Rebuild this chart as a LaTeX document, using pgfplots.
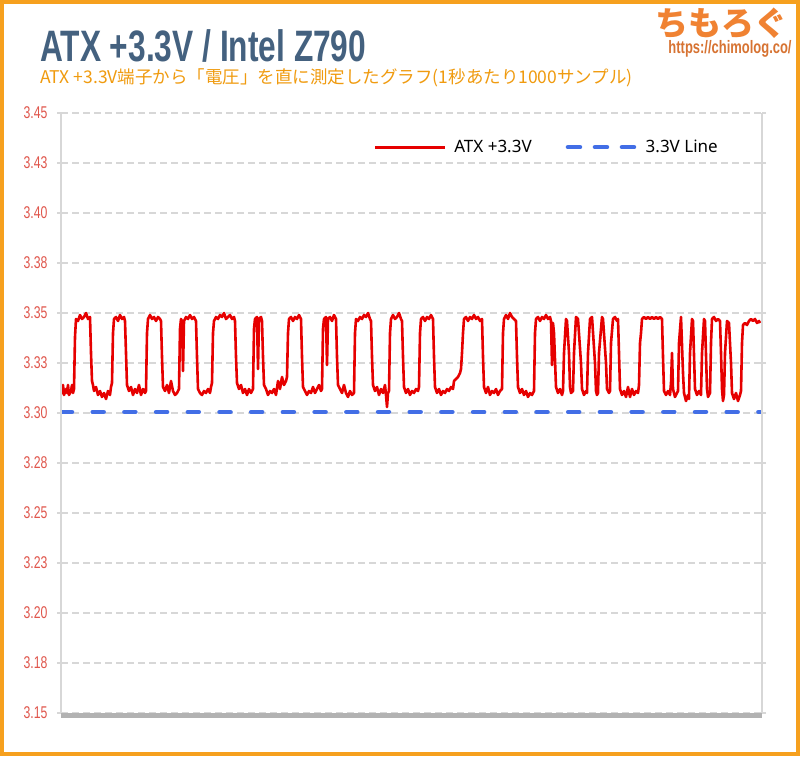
\documentclass[border=0pt]{standalone}
\usepackage{fontspec}
\usepackage{pgfplots}
\pgfplotsset{compat=1.18}
\setmainfont{Noto Sans}
\newfontfamily\cjk{Noto Sans CJK JP}
\newfontfamily\cond[FakeStretch=0.72]{Liberation Sans}

\definecolor{titleblue}{RGB}{68,97,127}
\definecolor{suborange}{RGB}{240,155,15}
\definecolor{frameorange}{RGB}{246,160,30}
\definecolor{tickred}{RGB}{224,86,76}
\definecolor{datared}{RGB}{230,0,0}
\definecolor{lineblue}{RGB}{66,110,230}
\definecolor{gridgray}{RGB}{215,215,215}
\definecolor{basegray}{RGB}{178,178,178}
\definecolor{logoorange}{RGB}{240,130,50}
\definecolor{urlorange}{RGB}{215,115,50}

\pgfplotsset{
  solidlegend/.style={legend image code/.code={\draw[##1] (0pt,0pt) -- (70pt,0pt); \path (76pt,0pt);}},
  dashlegend/.style={legend image code/.code={\draw[##1, dash pattern=on 12pt off 15pt] (2.5pt,0pt) -- (70pt,0pt); \path (76pt,0pt);}},
}

\begin{document}
\begin{tikzpicture}
\path[use as bounding box] (0pt,0pt) rectangle (800pt,756pt);
\fill[white] (0pt,0pt) rectangle (800pt,756pt);
\draw[frameorange, line width=4pt] (2pt,2pt) rectangle (798pt,754pt);

\node[anchor=base west, inner sep=0pt, text=titleblue, font=\cond\bfseries\fontsize{44}{44}\selectfont]
  at (40pt,694pt) {ATX +3.3V / Intel Z790};
\node[anchor=base west, text=suborange, font=\cjk\fontsize{17.5}{17.5}\selectfont, inner sep=0pt]
  at (40pt,672pt) {ATX +3.3V端子から「電圧」を直に測定したグラフ(1秒あたり1000サンプル)};
\node[text=logoorange, font=\cjk\bfseries\fontsize{33}{33}\selectfont] at (721pt,733pt) {ちもろぐ};
\node[text=urlorange, font=\cond\bfseries\fontsize{18}{18}\selectfont] at (730pt,707pt) {https://chimolog.co/};

\begin{axis}[
    name=ax,
    at={(61pt,43pt)}, anchor=south west,
    scale only axis,
    width=701pt, height=600pt,
    xmin=0, xmax=701,
    ymin=3.15, ymax=3.45,
    xtick=\empty,
    ytick={3.15,3.175,3.2,3.225,3.25,3.275,3.3,3.325,3.35,3.375,3.4,3.425,3.45},
    yticklabels={3.15,3.18,3.20,3.23,3.25,3.28,3.30,3.33,3.35,3.38,3.40,3.43,3.45},
    ymajorgrids,
    major grid style={draw=gridgray, line width=1.2pt, dash pattern=on 7pt off 4pt},
    axis line style={draw=none},
    y tick style={draw=gridgray, line width=1.2pt},
    major tick length=4pt,
    tick align=outside,
    yticklabel style={font=\cond\fontsize{17}{17}\selectfont, text=tickred, xshift=-6pt},
    legend style={at={(0.94,0.943)}, anchor=east, draw=none, fill=none, inner sep=0pt,
      font=\fontsize{17}{17}\selectfont,
      /tikz/every even column/.append style={column sep=32pt}},
    legend columns=2,
    legend cell align=left,
  ]
\addplot[datared, line width=2.6pt, line join=round, solidlegend] coordinates {
(0,3.313)(1,3.310)(2,3.314)(3,3.309)(5,3.312)(6,3.310)(7,3.314)(8,3.309)(10,3.311)(11,3.314)(12,3.310)(13,3.312)
(14,3.338)(15,3.347)(17,3.346)(19,3.349)(21,3.347)(23,3.348)(25,3.350)(27,3.347)(29,3.348)
(30,3.330)(31,3.316)
(32,3.314)(33,3.311)(35,3.313)(37,3.309)(39,3.311)(41,3.308)(43,3.310)(45,3.307)(47,3.311)(49,3.309)(50,3.313)(51,3.315)
(52,3.340)(53,3.347)(55,3.348)(57,3.346)(59,3.349)(61,3.347)(63,3.348)(64,3.346)
(65,3.330)(66,3.314)
(68,3.311)(70,3.313)(72,3.309)(74,3.312)(76,3.310)(78,3.314)(80,3.309)(82,3.312)(84,3.310)(85,3.311)
(86,3.340)(87,3.347)(89,3.349)(91,3.347)(93,3.348)(95,3.346)(97,3.348)(99,3.347)(100,3.346)
(101,3.328)(102,3.313)
(104,3.311)(106,3.314)(108,3.310)(110,3.316)(112,3.311)(114,3.309)(116,3.310)(118,3.312)
(119,3.342)(120,3.347)(121,3.346)(122,3.321)(123,3.346)(125,3.348)(127,3.347)(129,3.349)(131,3.347)(133,3.348)(135,3.346)
(136,3.328)(137,3.312)
(139,3.310)(141,3.309)(143,3.311)(145,3.310)(147,3.312)(149,3.310)(150,3.313)(151,3.315)
(152,3.340)(153,3.346)(155,3.348)(157,3.347)(159,3.349)(161,3.348)(163,3.350)(165,3.347)(167,3.348)(169,3.349)(171,3.347)(173,3.348)(174,3.346)
(175,3.328)(176,3.315)
(178,3.312)(180,3.314)(182,3.310)(184,3.312)(186,3.309)(188,3.312)(190,3.310)(192,3.312)
(193,3.342)(194,3.347)(196,3.348)(197,3.322)(198,3.347)(200,3.348)(201,3.346)
(202,3.328)(203,3.314)
(205,3.312)(207,3.309)(209,3.311)(211,3.310)(213,3.312)(215,3.309)(217,3.316)(219,3.312)(221,3.318)(223,3.314)(225,3.316)(226,3.318)
(227,3.340)(228,3.347)(230,3.348)(232,3.346)(234,3.348)(236,3.347)(238,3.349)(240,3.347)
(241,3.328)(242,3.313)
(244,3.311)(246,3.309)(248,3.311)(250,3.310)(252,3.313)(254,3.310)(256,3.312)(258,3.314)(260,3.311)(261,3.312)
(262,3.342)(263,3.347)(265,3.348)(266,3.324)(267,3.347)(269,3.348)(271,3.346)(273,3.349)(275,3.347)
(276,3.328)(277,3.314)
(279,3.312)(281,3.310)(283,3.314)(285,3.310)(287,3.308)(289,3.311)(291,3.309)(293,3.310)
(294,3.340)(295,3.347)(297,3.346)(299,3.348)(301,3.347)(303,3.349)(305,3.348)(307,3.350)(309,3.347)(310,3.346)
(311,3.328)(312,3.314)
(314,3.311)(316,3.313)(318,3.309)(320,3.312)(322,3.310)(324,3.314)(325,3.309)(326,3.303)(327,3.310)(328,3.311)
(329,3.340)(330,3.347)(332,3.349)(334,3.347)(336,3.348)(338,3.350)(340,3.347)(341,3.346)
(342,3.328)(343,3.313)
(345,3.310)(347,3.312)(349,3.309)(351,3.311)(353,3.310)(355,3.312)(357,3.311)(358,3.313)
(359,3.340)(360,3.347)(362,3.348)(364,3.346)(366,3.348)(368,3.347)(370,3.349)(372,3.347)
(373,3.328)(374,3.313)
(376,3.310)(378,3.312)(380,3.309)(382,3.311)(384,3.310)(386,3.312)(388,3.311)(390,3.313)(392,3.312)(393,3.316)(395,3.317)(397,3.318)(399,3.320)(400,3.322)(401,3.330)
(402,3.340)(403,3.347)(405,3.348)(407,3.346)(409,3.348)(411,3.347)(413,3.349)(415,3.347)(417,3.348)(419,3.346)(421,3.347)
(422,3.328)(423,3.313)
(425,3.310)(427,3.313)(429,3.309)(431,3.311)(433,3.310)(435,3.312)(437,3.309)(439,3.311)(441,3.312)
(442,3.340)(443,3.347)(445,3.349)(447,3.347)(449,3.350)(451,3.348)(453,3.347)(455,3.346)
(456,3.328)(457,3.313)
(459,3.310)(461,3.312)(463,3.309)(465,3.311)(467,3.308)(469,3.310)(471,3.309)(473,3.311)
(474,3.340)(475,3.347)(477,3.348)(479,3.346)(481,3.348)(483,3.347)(485,3.349)(487,3.347)(489,3.348)(490,3.346)(491,3.324)(492,3.345)(493,3.340)(495,3.313)
(497,3.310)(499,3.312)(501,3.309)(502,3.311)
(503,3.330)(505,3.347)(506,3.346)(508,3.330)(509,3.313)
(510,3.310)(512,3.311)
(513,3.330)(515,3.348)(517,3.347)(520,3.325)(521,3.312)
(523,3.309)(525,3.311)(526,3.310)
(527,3.330)(529,3.347)(531,3.348)(534,3.325)(535,3.311)
(536,3.309)(537,3.310)
(538,3.330)(541,3.348)(542,3.347)(545,3.325)(546,3.312)
(548,3.310)(549,3.311)
(550,3.335)(552,3.347)(554,3.348)(556,3.346)(557,3.347)(558,3.330)(559,3.312)
(561,3.309)(563,3.311)(565,3.308)(567,3.313)(569,3.308)(571,3.312)(573,3.309)(575,3.311)(577,3.310)(578,3.314)
(579,3.335)(580,3.340)(581,3.347)(583,3.348)(585,3.347)(587,3.348)(589,3.347)(591,3.348)(593,3.347)(595,3.348)(597,3.347)(599,3.348)(601,3.347)
(602,3.328)(603,3.311)
(605,3.309)(607,3.311)(609,3.309)(610,3.315)(611,3.330)(612,3.312)(614,3.308)(616,3.310)(617,3.311)
(618,3.335)(620,3.348)(622,3.320)(623,3.310)
(625,3.306)(627,3.309)(628,3.307)
(629,3.330)(631,3.347)(632,3.346)(634,3.312)
(636,3.309)(638,3.311)(640,3.309)
(641,3.330)(643,3.347)(644,3.346)(646,3.312)
(647,3.308)(649,3.310)
(650,3.335)(651,3.347)(653,3.348)(655,3.346)(657,3.347)(659,3.346)(660,3.330)(661,3.312)
(662,3.306)(663,3.309)
(664,3.330)(666,3.346)(668,3.345)(670,3.325)(671,3.310)
(673,3.307)(675,3.310)(677,3.306)(679,3.309)(680,3.311)
(681,3.335)(682,3.344)(684,3.345)(686,3.344)(688,3.346)(690,3.347)(692,3.346)(694,3.347)(696,3.345)(698,3.346)(699,3.345)
};
\addlegendentry{ATX +3.3V}
\addplot[lineblue, line width=4.5pt, dash pattern=on 11pt off 20.7pt, line cap=round, dashlegend]
  coordinates {(0,3.3005) (701,3.3005)};
\addlegendentry{3.3V Line}
\end{axis}

\draw[gridgray, line width=1.2pt] (ax.south west) -- (ax.north west);
\draw[gridgray, line width=1.2pt] (ax.south east) -- (ax.north east);
\draw[basegray, line width=5pt] ([yshift=-2.5pt]ax.south west) -- ([yshift=-2.5pt]ax.south east);
\end{tikzpicture}
\end{document}
